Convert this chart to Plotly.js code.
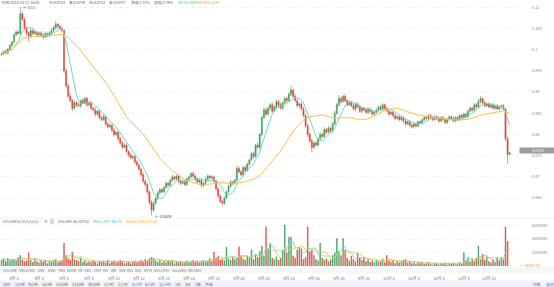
<!DOCTYPE html>
<html><head><meta charset="utf-8">
<script src="https://cdn.plot.ly/plotly-3.0.1.min.js"></script>
<style>html,body{margin:0;padding:0;background:#fff;overflow:hidden}#chart{width:554px;height:287px}</style>
</head><body><div id="chart"></div>
<script>
// ---------- DATA (4-hour candles from 2018-09-01 00:00) ----------
const firstOpen = 0.0988;
const closes = [
0.0990,0.0996,0.0992,0.1001,0.1010,0.1018,
0.1035,0.1042,0.1038,0.1085,0.1072,0.1050,
0.1040,0.1032,0.1045,0.1038,0.1042,0.1035,
0.1040,0.1034,0.1030,0.1038,0.1033,0.1040,
0.1045,0.1052,0.1060,0.1055,0.1050,0.1045,
0.0950,0.0915,0.0890,0.0880,0.0862,0.0875,
0.0870,0.0868,0.0880,0.0875,0.0885,0.0870,
0.0875,0.0862,0.0858,0.0848,0.0855,0.0840,
0.0835,0.0842,0.0825,0.0818,0.0822,0.0810,
0.0800,0.0805,0.0790,0.0780,0.0770,0.0775,
0.0760,0.0752,0.0745,0.0748,0.0735,0.0728,
0.0718,0.0705,0.0690,0.0682,0.0665,0.0640,
0.0622,0.0638,0.0650,0.0662,0.0670,0.0665,
0.0675,0.0685,0.0680,0.0692,0.0700,0.0695,
0.0702,0.0690,0.0685,0.0688,0.0682,0.0695,
0.0700,0.0708,0.0702,0.0695,0.0688,0.0692,
0.0680,0.0685,0.0695,0.0702,0.0698,0.0700,
0.0690,0.0672,0.0655,0.0642,0.0638,0.0650,
0.0665,0.0678,0.0688,0.0685,0.0692,0.0720,
0.0712,0.0705,0.0722,0.0715,0.0730,0.0740,
0.0755,0.0748,0.0775,0.0770,0.0800,0.0840,
0.0858,0.0848,0.0862,0.0870,0.0855,0.0865,
0.0878,0.0870,0.0862,0.0875,0.0885,0.0880,
0.0895,0.0905,0.0890,0.0880,0.0868,0.0872,
0.0860,0.0845,0.0820,0.0800,0.0785,0.0770,
0.0780,0.0775,0.0790,0.0800,0.0795,0.0812,
0.0805,0.0815,0.0808,0.0825,0.0850,0.0870,
0.0885,0.0878,0.0890,0.0880,0.0870,0.0875,
0.0868,0.0860,0.0872,0.0865,0.0855,0.0862,
0.0858,0.0852,0.0860,0.0855,0.0848,0.0852,
0.0858,0.0865,0.0860,0.0870,0.0862,0.0855,
0.0848,0.0852,0.0845,0.0838,0.0842,0.0835,
0.0840,0.0832,0.0825,0.0830,0.0822,0.0818,
0.0825,0.0820,0.0830,0.0828,0.0835,0.0840,
0.0838,0.0845,0.0840,0.0835,0.0842,0.0838,
0.0832,0.0840,0.0835,0.0828,0.0835,0.0842,
0.0838,0.0832,0.0840,0.0835,0.0845,0.0840,
0.0848,0.0842,0.0855,0.0862,0.0858,0.0870,
0.0865,0.0878,0.0885,0.0875,0.0868,0.0872,
0.0865,0.0870,0.0862,0.0868,0.0860,0.0865,
0.0868,0.0860,0.0790,0.0753,0.0757
];
// wick lengths above / below the body, in units of 0.0001
const upperWicks = [
3,2,4,2,3,2, 4,3,5,15,6,3, 4,3,5,3,4,2, 3,4,2,5,3,4, 6,4,8,3,4,3,
3,5,4,6,3,5, 4,6,3,5,4,3, 5,3,4,6,3,4, 4,5,3,4,6,3, 5,4,3,5,4,6,
4,3,5,4,3,5, 3,4,5,3,4,3, 5,4,3,5,4,3, 4,5,3,4,5,3, 3,5,4,3,5,4,
4,3,5,4,3,5, 4,3,5,4,3,4, 3,4,3,5,3,4, 3,4,5,3,4,6, 5,4,3,5,4,3,
4,5,3,6,4,5, 6,5,4,5,6,4, 5,4,6,3,5,4, 5,10,4,6,3,5, 4,5,3,6,4,5,
4,5,3,6,4,5, 4,5,3,4,6,5, 8,5,4,6,3,4, 4,5,3,4,5,3, 3,4,5,3,4,3,
4,3,5,4,3,4, 3,4,3,5,3,4, 4,3,5,4,3,4, 3,4,3,4,3,4, 3,4,3,4,3,3,
4,3,4,3,4,3, 3,4,3,4,3,4, 4,3,4,5,3,4, 4,5,6,3,4,3, 4,3,4,3,4,3,
3,4,3,5,2
];
const lowerWicks = [
3,2,3,4,2,3, 3,4,2,3,4,3, 5,12,3,4,3,4, 3,4,5,3,4,3, 4,3,4,5,3,4,
4,6,5,4,6,3, 5,3,6,4,3,5, 4,5,3,6,4,5, 4,3,5,4,3,5, 5,4,6,4,5,3,
4,5,3,4,5,4, 3,4,5,4,6,5, 13,4,3,5,4,3, 4,3,5,4,3,5, 3,4,5,3,4,3,
4,3,4,5,3,4, 5,4,3,4,3,5, 3,5,4,3,6,4, 3,4,3,5,4,3, 4,3,5,4,3,4,
3,5,4,3,5,4, 4,6,3,5,4,3, 4,5,3,4,3,5, 3,4,5,3,4,5, 4,5,4,6,5,12,
5,4,3,5,4,3, 4,3,5,4,3,4, 4,5,3,4,5,4, 3,4,5,3,4,5, 4,3,4,5,3,4,
3,4,3,4,5,3, 4,3,5,4,3,4, 3,4,5,3,4,3, 4,3,4,3,4,3, 3,4,3,4,3,4,
4,3,4,3,4,3, 3,4,3,4,3,4, 4,3,4,3,5,4, 4,3,4,5,4,3, 3,4,3,4,3,4,
4,3,6,22,0
];
// volume in millions
const volumesM = [
0.9,1.1,0.7,1.2,0.8,1.0, 1.0,0.8,1.3,1.6,0.9,0.7, 0.8,2.0,0.9,0.6,1.1,0.7,
0.5,0.8,0.6,0.9,0.4,0.7, 0.6,0.9,1.0,0.5,0.7,0.8, 3.4,1.6,1.2,0.9,2.1,1.0,
0.9,0.7,1.2,0.6,0.8,0.5, 0.7,0.5,0.9,0.6,0.4,0.8, 0.6,0.8,0.5,0.9,0.4,0.7,
0.8,0.5,0.6,0.9,0.7,0.4, 0.5,0.7,0.4,0.6,0.8,0.5, 0.7,0.9,0.6,1.0,0.8,1.1,
1.3,1.2,0.8,0.6,0.9,0.5, 0.7,0.5,0.8,0.6,0.9,0.4, 0.6,0.5,0.7,0.4,0.6,0.8,
0.5,0.7,0.9,0.6,0.8,0.5, 0.7,0.9,0.6,0.8,1.1,0.7, 2.1,1.2,1.5,0.9,1.0,0.8,
2.8,1.1,0.9,1.3,1.0,1.2, 2.9,1.4,1.1,0.9,1.5,1.2, 2.4,1.0,1.8,1.3,2.2,3.0,
1.5,5.8,2.6,3.4,1.2,1.0, 1.4,0.9,1.2,2.4,6.1,2.0, 4.3,4.3,1.5,1.2,2.4,2.8,
2.6,1.0,1.3,5.8,2.2,2.4, 1.6,1.0,0.8,3.4,1.2,0.9, 1.1,0.7,0.9,1.6,2.0,4.1,
2.2,1.5,4.1,2.4,1.2,0.8, 1.5,1.0,0.7,2.0,1.2,0.9, 1.3,0.7,1.0,0.6,0.8,0.5,
0.9,0.6,0.7,1.1,0.5,1.6, 0.8,0.6,0.9,0.4,0.7,0.5, 0.6,0.9,1.0,0.5,0.7,0.4,
0.5,0.3,0.6,0.4,0.5,0.3, 0.4,0.6,0.3,0.2,0.5,0.3, 0.2,0.4,0.3,0.5,0.2,0.4,
0.3,0.5,0.2,0.4,0.6,0.3, 2.0,0.8,1.3,0.6,1.0,0.7, 1.2,3.0,1.0,1.8,0.9,1.4,
0.7,0.5,0.9,0.6,1.3,0.8, 1.3,1.0,5.8,3.7,0.05816782
];
const dateTickDays = ['2018-09-02','2018-09-04','2018-09-06','2018-09-08','2018-09-10','2018-09-12','2018-09-14','2018-09-16','2018-09-18','2018-09-20','2018-09-22','2018-09-24','2018-09-26','2018-09-28','2018-09-30','2018-10-02','2018-10-04','2018-10-06','2018-10-08','2018-10-10'];
const dateTickLabels = ['9月 2','9月 4','9月 6','9月 8','9月 10','9月 12','9月 14','9月 16','9月 18','9月 20','9月 22','9月 24','9月 26','9月 28','9月 30','10月 2','10月 4','10月 6','10月 8','10月 10'];
const priceTicks = [0.065,0.07,0.075,0.08,0.085,0.09,0.095,0.1,0.105,0.11];
const volumeTicks = [2000000,4000000,6000000];
const volumeTickLabels = ['2000000','4000000','6000000'];
const indicatorTabs = ['VOLUME','MACD','SMI','DMI','DMA','TRIX','BRAR','VR','OBV','EMV','RSI','WR','SAR','KDJ','ROC','MTM','BOLL','PSY','StochRSI','MA','EMA'];
const periodButtons = ['分时','1分钟','3分钟','5分钟','10分钟','15分钟','30分钟','1小时','2小时','4小时','6小时','12小时','1天','3天','1周','月线'];
const headerItems = ['时间:2018-10-11 16:00','开:0.0753','高:0.0759','低:0.0753','收:0.0757','涨幅:','振幅:0.79%','MA7:0.0814','MA30:0.0839'];
const volumeHeader = ['VOLUME(5,10,0,0,0,0)','VOLUME:58,167.82','MA5:1,897,480.70','MA10:1,438,527.05'];

// ---------- BUILD ----------
const UP = '#3f9f62', DOWN = '#e0483b';
const n = closes.length;
const t0 = Date.UTC(2018, 8, 1, 0, 0, 0);
const times = [], opens = [], highs = [], lows = [], vols = [];
for (let i = 0; i < n; i++) {
  times.push(new Date(t0 + i * 4 * 3600e3).toISOString().slice(0, 19).replace('T', ' '));
  const o = i ? closes[i - 1] : firstOpen;
  const c = closes[i];
  opens.push(o);
  highs.push(Math.round((Math.max(o, c) + upperWicks[i] * 1e-4) * 1e5) / 1e5);
  lows.push(Math.round((Math.min(o, c) - lowerWicks[i] * 1e-4) * 1e5) / 1e5);
  vols.push(volumesM[i] * 1e6);
}
function ma(arr, k) {
  return arr.map((_, i) => { const s = Math.max(0, i - k + 1); let t = 0; for (let j = s; j <= i; j++) t += arr[j]; return t / (i - s + 1); });
}
const ma7 = ma(closes, 7), ma30 = ma(closes, 30);
const vma5 = ma(vols, 5), vma10 = ma(vols, 10);
const volColors = closes.map((c, i) => c >= opens[i] ? UP : DOWN);

// pixel helpers (plot area: x 0..518, y 5..266)
const PW = 518, PT = 5, PH = 261;
const X = p => p / PW;
const Y = p => 1 - (p - PT) / PH;

const FONT = 'Noto Sans CJK SC, Noto Sans, sans-serif';
const traces = [
  {type:'candlestick', x:times, open:opens, high:highs, low:lows, close:closes, xaxis:'x', yaxis:'y',
   increasing:{line:{color:UP,width:0.6}, fillcolor:UP}, decreasing:{line:{color:DOWN,width:0.6}, fillcolor:DOWN},
   whiskerwidth:0, hoverinfo:'skip'},
  {type:'scatter', mode:'lines', x:times, y:ma7, line:{color:'#72d8c6', width:1}, xaxis:'x', yaxis:'y', hoverinfo:'skip'},
  {type:'scatter', mode:'lines', x:times, y:ma30, line:{color:'#f5c04a', width:1}, xaxis:'x', yaxis:'y', hoverinfo:'skip'},
  {type:'bar', x:times, y:vols, marker:{color:volColors, line:{width:0}}, opacity:0.9, xaxis:'x2', yaxis:'y2', hoverinfo:'skip'},
  {type:'scatter', mode:'lines', x:times, y:vma5, line:{color:'#72d8c6', width:0.8}, xaxis:'x2', yaxis:'y2', hoverinfo:'skip'},
  {type:'scatter', mode:'lines', x:times, y:vma10, line:{color:'#f5c04a', width:0.8}, xaxis:'x2', yaxis:'y2', hoverinfo:'skip'}
];

const ann = [];
function txt(xp, yp, text, color, size, extra) {
  ann.push(Object.assign({xref:'paper', yref:'paper', x:X(xp), y:Y(yp), xanchor:'left', yanchor:'middle',
    text:text, showarrow:false, borderpad:0, font:{family:FONT, size:size || 4, color:color || '#666'}}, extra || {}));
}
// header line
const hx = [1, 48, 68, 88, 108, 130, 153, 177, 197];
headerItems.forEach((t, i) => {
  let color = '#666', text = t;
  if (i === 5) text = t + '<span style="color:#3f9f62">0.53%</span>';
  if (i === 7) color = '#3fc0ac';
  if (i === 8) color = '#f0a928';
  txt(hx[i], 2.4, text, color, 3.7);
});
// volume header
txt(2, 221, volumeHeader[0], '#666', 3.6);
txt(43, 221, '⚙', '#888', 4.2);
txt(48.5, 221, '⊠', '#888', 4.2);
txt(57, 221, volumeHeader[1], '#666', 3.6);
txt(92, 221, volumeHeader[2], '#3fc0ac', 3.6);
txt(125, 221, volumeHeader[3], '#f0a928', 3.6);
// indicator tabs
const tabX = [2,18,28,37,47,57,66,77,83,93,102,110,118,126,134,143,153,162,171,187,193];
indicatorTabs.forEach((t, i) => txt(tabX[i], 270.5, t, i === 0 ? '#3b7ddd' : '#777', 3.5));
// period buttons
const btnX = [2,13.6,27.4,41.2,55,71,87,103,116.8,130.6,144.4,158.2,174.2,184,193.8,203.6];
periodButtons.forEach((t, i) => txt(btnX[i], 284, t, i === 9 ? '#3b7ddd' : '#666', 3.8));
txt(532, 284, '对数', '#666', 3.8);
txt(545, 284, '自动', '#3b7ddd', 3.8);
// high / low markers
let iHi = 0, iLo = 0;
for (let i = 1; i < n; i++) { if (highs[i] > highs[iHi]) iHi = i; if (lows[i] < lows[iLo]) iLo = i; }
ann.push({xref:'x', yref:'y', x:times[iHi], y:highs[iHi], xanchor:'left', yanchor:'middle', xshift:2, yshift:-0.5, showarrow:false, borderpad:0,
  text:'← ' + (+highs[iHi].toFixed(4)), font:{family:FONT, size:3.8, color:'#555'}});
ann.push({xref:'x', yref:'y', x:times[iLo], y:lows[iLo], xanchor:'left', yanchor:'middle', xshift:2, yshift:-1, showarrow:false, borderpad:0,
  text:'← ' + lows[iLo].toFixed(4), font:{family:FONT, size:3.8, color:'#555'}});
// current price tag
ann.push({xref:'paper', yref:'y', x:X(518.5), y:closes[n - 1], xanchor:'left', yanchor:'middle', yshift:2, showarrow:false,
  text:closes[n - 1].toFixed(4), bgcolor:'#9d9d9d', width:35, height:4.5, borderpad:0.3, align:'center',
  font:{family:FONT, size:3.8, color:'#ffffff'}});
// last volume tag
ann.push({xref:'paper', yref:'y2', x:X(519), y:vols[n - 1], xanchor:'left', yanchor:'middle', showarrow:false, borderpad:0,
  text:'← ' + (vols[n - 1]).toFixed(2), font:{family:FONT, size:3.8, color:'#f0a030'}});

const shapes = [
  {type:'rect', xref:'paper', yref:'paper', x0:X(0), x1:X(554), y0:Y(280.5), y1:Y(287), fillcolor:'#eef2f8', line:{width:0}, layer:'below'},
  {type:'rect', xref:'paper', yref:'paper', x0:X(0), x1:X(554), y0:Y(267), y1:Y(273.5), fillcolor:'#f7f7f7', line:{width:0}, layer:'below'},
  {type:'line', xref:'paper', yref:'paper', x0:X(0), x1:X(554), y0:Y(218), y1:Y(218), line:{color:'#ececec', width:0.8}}
];

const axY = {side:'right', showgrid:true, gridcolor:'#e6e6e6', griddash:'dot', gridwidth:0.6, zeroline:false, showline:false,
  ticks:'outside', ticklen:12, tickcolor:'rgba(0,0,0,0)', tickfont:{family:FONT, size:4, color:'#888'}, fixedrange:true};
const layout = {
  width:554, height:287, margin:{l:0, r:36, t:PT, b:21}, showlegend:false,
  paper_bgcolor:'#ffffff', plot_bgcolor:'#ffffff', boxgap:0.25, bargap:0.3,
  font:{family:FONT, size:4, color:'#666'},
  xaxis:{type:'date', range:['2018-08-31 21:00','2018-10-12 08:00'], domain:[0,1], anchor:'y', showticklabels:false,
    showgrid:false, zeroline:false, showline:false, rangeslider:{visible:false}, fixedrange:true},
  xaxis2:{type:'date', matches:'x', anchor:'y2', domain:[0,1], tickmode:'array', tickvals:dateTickDays, ticktext:dateTickLabels,
    ticks:'outside', ticklen:8, tickcolor:'rgba(0,0,0,0)', tickfont:{family:FONT, size:4, color:'#777'},
    showgrid:false, zeroline:false, showline:false, fixedrange:true},
  yaxis:Object.assign({}, axY, {domain:[1 - 212 / PH, 1], range:[0.06054, 0.11054], tickmode:'array', tickvals:priceTicks}),
  yaxis2:Object.assign({}, axY, {domain:[0, 1 - 213 / PH], range:[0, 7.11e6], tickmode:'array', tickvals:volumeTicks, ticktext:volumeTickLabels}),
  annotations:ann, shapes:shapes
};
Plotly.newPlot('chart', traces, layout, {staticPlot:true, displayModeBar:false});
</script></body></html>
